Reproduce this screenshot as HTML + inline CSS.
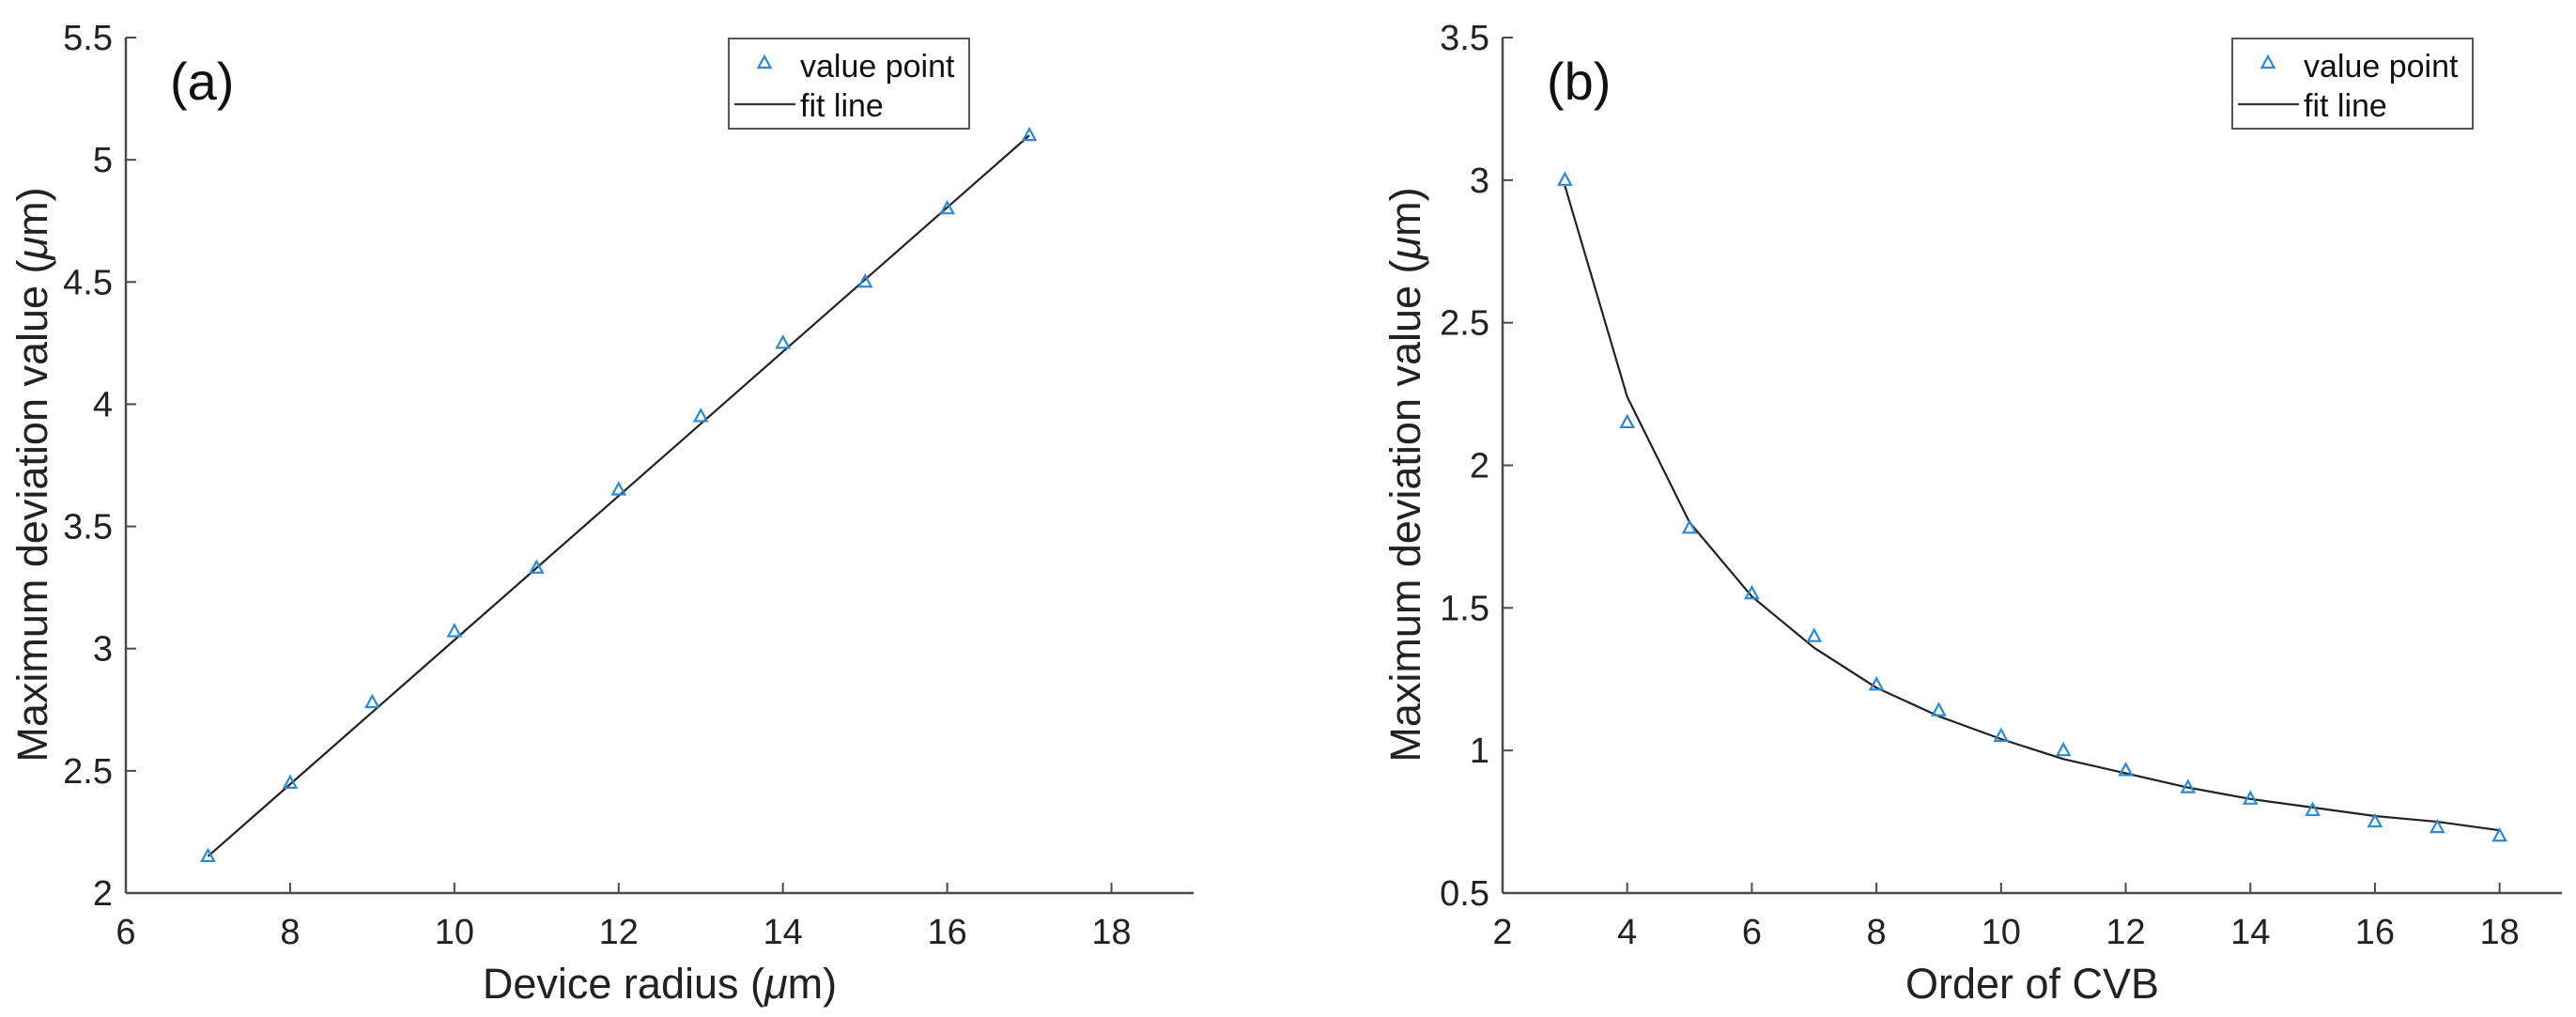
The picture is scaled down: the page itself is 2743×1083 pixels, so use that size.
<!DOCTYPE html>
<html><head><meta charset="utf-8"><style>
html,body{margin:0;padding:0;background:#fff;}
svg{display:block;font-family:"Liberation Sans",Arial,sans-serif;}
</style></head><body>
<svg id="chart" width="2743" height="1083" viewBox="0 0 2743 1083" xmlns="http://www.w3.org/2000/svg"></svg>
<script>
// Panel (a) data
const radiusA = [7,8,9,10,11,12,13,14,15,16,17];
const valuesA = [2.15,2.45,2.78,3.07,3.33,3.65,3.95,4.25,4.5,4.8,5.1];
const fitXA = [7,17];
const fitYA = [2.15,5.1];
const xTicksA = [6,8,10,12,14,16,18];
const yTicksA = [2,2.5,3,3.5,4,4.5,5,5.5];
const yTickLabelsA = ['2','2.5','3','3.5','4','4.5','5','5.5'];
// Panel (b) data
const orderB = [3,4,5,6,7,8,9,10,11,12,13,14,15,16,17,18];
const valuesB = [3.0,2.15,1.78,1.55,1.40,1.23,1.14,1.05,1.00,0.93,0.87,0.83,0.79,0.75,0.73,0.70];
const fitYB = [2.98,2.24,1.80,1.54,1.36,1.22,1.12,1.04,0.97,0.92,0.87,0.83,0.80,0.77,0.75,0.72];
const xTicksB = [2,4,6,8,10,12,14,16,18];
const yTicksB = [0.5,1,1.5,2,2.5,3,3.5];
const yTickLabelsB = ['0.5','1','1.5','2','2.5','3','3.5'];

const NS='http://www.w3.org/2000/svg';
const svg=document.getElementById('chart');
function mk(tag,attrs,parent){const e=document.createElementNS(NS,tag);for(const k in attrs)e.setAttribute(k,attrs[k]);(parent||svg).appendChild(e);return e;}

function panel(cfg){
  const g=mk('g',{});
  
  
  const sx=v=>cfg.x0+(v-cfg.xmin)/(cfg.xmax-cfg.xmin)*(cfg.x1-cfg.x0);
  const sy=v=>cfg.y0-(v-cfg.ymin)/(cfg.ymax-cfg.ymin)*(cfg.y0-cfg.y1);
  const ax='#4a4a4a';
  const xa=mk('line',{x1:cfg.x0,y1:cfg.y0,x2:cfg.x1,y2:cfg.y0,stroke:ax,'stroke-width':2.5},g);
  
  
  const ya=mk('line',{x1:cfg.x0,y1:cfg.y0,x2:cfg.x0,y2:cfg.y1,stroke:ax,'stroke-width':2.5},g);
  
  
  cfg.xticks.forEach(t=>{
    const x=sx(t);
    mk('line',{x1:x,y1:cfg.y0,x2:x,y2:cfg.y0-11,stroke:ax,'stroke-width':2},g);
    const tx=mk('text',{x:x,y:cfg.y0+54,'font-size':38,'text-anchor':'middle',fill:'#222'},g);
    tx.textContent=String(t);
    
    
  });
  cfg.yticks.forEach((t,i)=>{
    const y=sy(t);
    mk('line',{x1:cfg.x0,y1:y,x2:cfg.x0+11,y2:y,stroke:ax,'stroke-width':2},g);
    const tx=mk('text',{x:cfg.x0-14,y:y+13,'font-size':38,'text-anchor':'end',fill:'#222'},g);
    tx.textContent=cfg.ylabels[i];
    
    
  });
  const pts=cfg.fitX.map((v,i)=>sx(v)+','+sy(cfg.fitY[i])).join(' ');
  const pl=mk('polyline',{points:pts,fill:'none',stroke:'#222','stroke-width':2.2},g);
  
  
  cfg.px.forEach((v,i)=>{
    const x=sx(v),y=sy(cfg.py[i]);
    const tr=mk('polygon',{points:`${x},${y-7} ${x-6.5},${y+5} ${x+6.5},${y+5}`,fill:'none',stroke:'#2a8ad4','stroke-width':2.2},g);
    
    
  });
  const xt=mk('text',{x:(cfg.x0+cfg.x1)/2,y:1063,'font-size':45,'text-anchor':'middle',fill:'#222'},g);
  xt.innerHTML=cfg.xtitle;
  
  
  const yt=mk('text',{x:0,y:0,'font-size':45,'text-anchor':'middle',fill:'#222',transform:`translate(${cfg.ytx},${(cfg.y0+cfg.y1)/2+10}) rotate(-90)`},g);
  yt.innerHTML='Maximum deviation value (<tspan font-style="italic">μ</tspan>m)';
  
  
  const pl2=mk('text',{x:cfg.x0+47,y:106,'font-size':56,fill:'#111'},g);
  pl2.textContent=cfg.label;
  
  
  const lg=mk('g',{},g);
  
  
  const L=cfg.legX,T=41;
  mk('rect',{x:L,y:T,width:256,height:96,fill:'#fff',stroke:'#555','stroke-width':2},lg);
  const lx=L+38,ly=T+26;
  mk('polygon',{points:`${lx},${ly-7} ${lx-6.5},${ly+5} ${lx+6.5},${ly+5}`,fill:'none',stroke:'#2a8ad4','stroke-width':2.2},lg);
  const t1=mk('text',{x:L+76,y:T+41,'font-size':34,fill:'#111'},lg);
  t1.textContent='value point';
  
  
  mk('line',{x1:L+6,y1:T+70,x2:L+71,y2:T+70,stroke:'#333','stroke-width':2.2},lg);
  const t2=mk('text',{x:L+76,y:T+83,'font-size':34,fill:'#111'},lg);
  t2.textContent='fit line';
  
  
}

panel({name:'panel-a',x0:134,x1:1271,y0:951,y1:40,xmin:6,xmax:19,ymin:2,ymax:5.5,
  xticks:xTicksA,yticks:yTicksA,ylabels:yTickLabelsA,px:radiusA,py:valuesA,fitX:fitXA,fitY:fitYA,
  xtitle:'Device radius (<tspan font-style="italic">μ</tspan>m)',ytx:50,label:'(a)',legX:776});
panel({name:'panel-b',x0:1600,x1:2728,y0:951,y1:40,xmin:2,xmax:19,ymin:0.5,ymax:3.5,
  xticks:xTicksB,yticks:yTicksB,ylabels:yTickLabelsB,px:orderB,py:valuesB,fitX:orderB,fitY:fitYB,
  xtitle:'Order of CVB',ytx:1512,label:'(b)',legX:2377});
</script>
</body></html>
